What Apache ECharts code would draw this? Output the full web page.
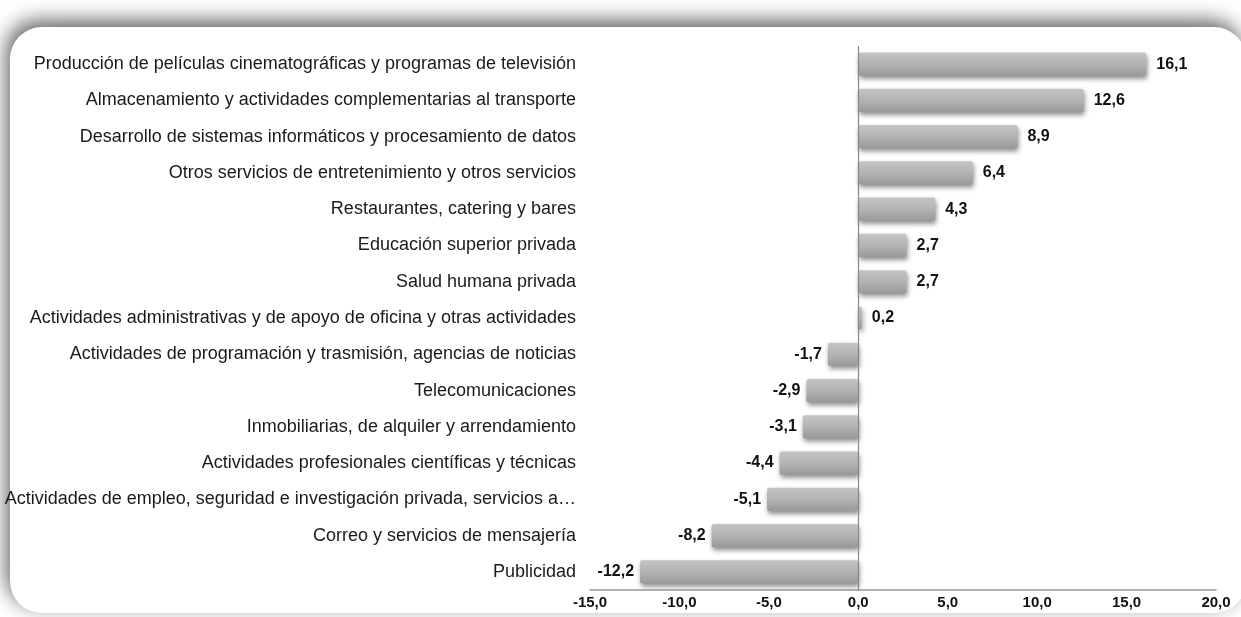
<!DOCTYPE html>
<html>
<head>
<meta charset="utf-8">
<script src="https://cdn.jsdelivr.net/npm/echarts@6/dist/echarts.min.js"></script>
<style>
  html, body { margin: 0; padding: 0; background: #fff; }
  #chart { width: 1241px; height: 617px; }
</style>
</head>
<body>
<div id="chart"></div>
<script>
const categories = [
  'Producción de películas cinematográficas y programas de televisión',
  'Almacenamiento y actividades complementarias al transporte',
  'Desarrollo de sistemas informáticos y procesamiento de datos',
  'Otros servicios de entretenimiento y otros servicios',
  'Restaurantes, catering y bares',
  'Educación superior privada',
  'Salud humana privada',
  'Actividades administrativas y de apoyo de oficina y otras actividades',
  'Actividades de programación y trasmisión, agencias de noticias',
  'Telecomunicaciones',
  'Inmobiliarias, de alquiler y arrendamiento',
  'Actividades profesionales científicas y técnicas',
  'Actividades de empleo, seguridad e investigación privada, servicios a…',
  'Correo y servicios de mensajería',
  'Publicidad'
]
const values = [16.1, 12.6, 8.9, 6.4, 4.3, 2.7, 2.7, 0.2, -1.7, -2.9, -3.1, -4.4, -5.1, -8.2, -12.2]
const axisMin = -15
const axisMax = 20
const axisStep = 5

const fmt = v => v.toFixed(1).replace('.', ',')
const narrow = "'Liberation Sans Narrow', 'Arial Narrow', 'Liberation Sans', sans-serif"

let myChart = echarts.init(document.getElementById('chart'))

// label side depends on the sign of the bar
let barData = values.map(v => ({
  value: v,
  label: {
    position: v >= 0 ? 'right' : 'left',
    distance: v >= 0 ? 10 : 6
  }
}))

let option = {
  animation: false,
  backgroundColor: '#fff',
  graphic: [{
    type: 'rect',
    z: -10,
    silent: true,
    shape: { x: 10, y: 27, width: 1236, height: 586, r: 32 },
    style: {
      fill: '#fff',
      shadowBlur: 20,
      shadowColor: 'rgba(0,0,0,0.6)',
      shadowOffsetX: -4,
      shadowOffsetY: -7
    }
  }],
  grid: {
    left: 590,
    right: 25,
    top: 46,
    bottom: 27
  },
  xAxis: {
    type: 'value',
    min: axisMin,
    max: axisMax,
    interval: axisStep,
    splitLine: { show: false },
    axisTick: { show: false },
    axisLine: { show: true, lineStyle: { color: '#999', width: 1.5 } },
    axisLabel: {
      formatter: fmt,
      fontFamily: narrow,
      fontWeight: 'bold',
      fontSize: 15,
      color: '#111',
      margin: 5
    }
  },
  yAxis: {
    type: 'category',
    data: categories,
    inverse: true,
    axisLine: { show: false },
    axisTick: { show: false },
    axisLabel: {
      fontFamily: "'Liberation Sans', Arial, sans-serif",
      fontSize: 18,
      color: '#1a1a1a',
      margin: 14
    }
  },
  series: [{
    type: 'bar',
    data: barData,
    barWidth: '64%',
    itemStyle: {
      color: new echarts.graphic.LinearGradient(0, 0, 0, 1, [
        { offset: 0, color: '#c4c4c4' },
        { offset: 0.5, color: '#b3b3b3' },
        { offset: 1, color: '#999999' }
      ]),
      borderRadius: 2,
      shadowBlur: 5,
      shadowOffsetX: 1,
      shadowOffsetY: 3,
      shadowColor: 'rgba(0,0,0,0.45)'
    },
    label: {
      show: true,
      formatter: p => fmt(p.value),
      fontFamily: narrow,
      fontWeight: 'bold',
      fontSize: 16,
      color: '#111'
    },
    markLine: {
      silent: true,
      symbol: 'none',
      label: { show: false },
      lineStyle: { color: '#888', width: 1.2, type: 'solid' },
      data: [{ xAxis: 0 }]
    }
  }]
}
myChart.setOption(option)
</script>
</body>
</html>
